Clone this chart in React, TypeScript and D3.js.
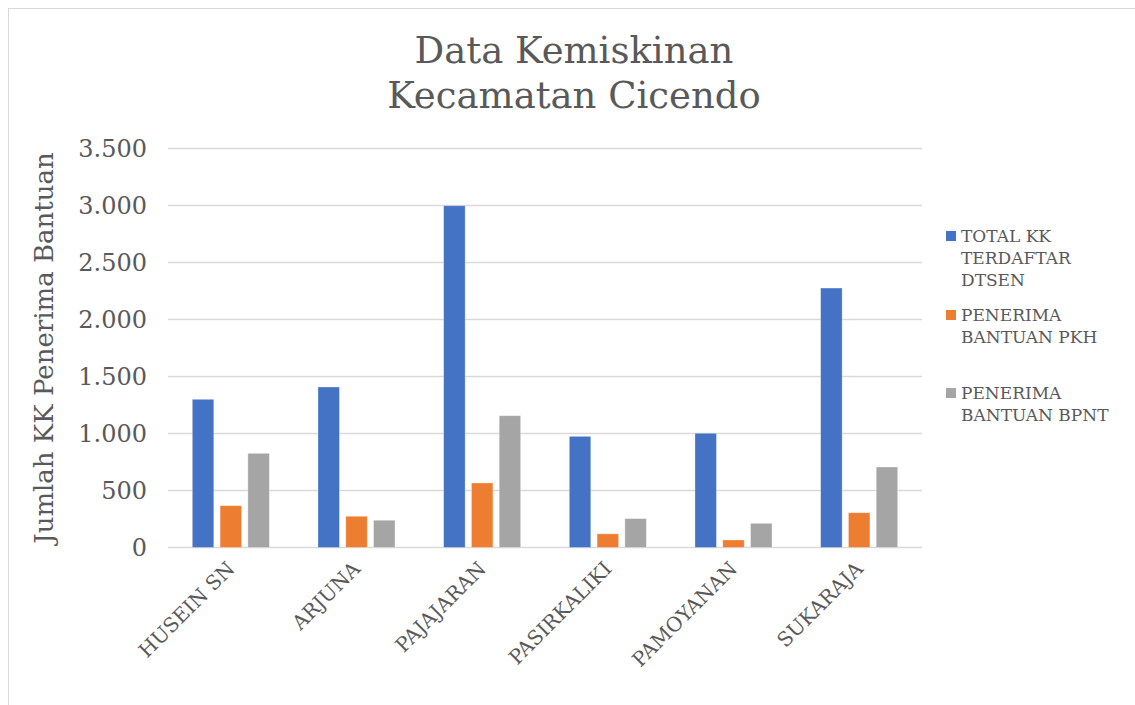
import React from "react";
import * as d3 from "d3";

const categories = ["HUSEIN SN", "ARJUNA", "PAJAJARAN", "PASIRKALIKI", "PAMOYANAN", "SUKARAJA"];
const totalKK = [1300, 1408, 2998, 975, 1002, 2276];
const penerimaPKH = [367, 274, 566, 120, 66, 305];
const penerimaBPNT = [826, 239, 1156, 253, 212, 706];
const seriesNames = [
  ["TOTAL KK", "TERDAFTAR", "DTSEN"],
  ["PENERIMA", "BANTUAN PKH"],
  ["PENERIMA", "BANTUAN BPNT"],
];
const colors = ["#4472C4", "#ED7D31", "#A5A5A5"];
const yTicks = [0, 500, 1000, 1500, 2000, 2500, 3000, 3500];

const FONT = "'DejaVu Serif', 'Liberation Serif', serif";
const TEXT = "#595959";

const App: React.FC = () => {
  const width = 1135;
  const height = 705;
  const plot = { left: 168, right: 922, top: 148.5, bottom: 547.5 };

  const series = [totalKK, penerimaPKH, penerimaBPNT];

  const x0 = d3.scaleBand<string>().domain(categories).range([plot.left, plot.right]).padding(0);
  const x1 = d3
    .scaleBand<number>()
    .domain([0, 1, 2])
    .range([0, x0.bandwidth()])
    .paddingInner(0.227)
    .paddingOuter(0.875);
  const y = d3.scaleLinear().domain([0, 3500]).range([plot.bottom, plot.top]);
  const fmt = (v: number) => d3.format(",")(v).replace(/,/g, ".");

  const legendY = [236, 315, 393];

  return (
    <svg width={width} height={height} style={{ position: "absolute", left: 0, top: 0 }}>
      <rect x={0} y={0} width={width} height={height} fill="#fff" />
      <rect x={8.5} y={8.5} width={width + 20} height={height + 20} fill="#fff" stroke="#d9d9d9" />

      {/* title */}
      <text x={574} y={63} textAnchor="middle" fontFamily={FONT} fontSize={37} fill={TEXT}>
        Data Kemiskinan
      </text>
      <text x={574} y={108} textAnchor="middle" fontFamily={FONT} fontSize={37} fill={TEXT}>
        Kecamatan Cicendo
      </text>

      {/* gridlines + y labels */}
      {yTicks.map((t) => (
        <g key={t}>
          <line x1={plot.left} x2={plot.right} y1={y(t)} y2={y(t)} stroke="#d9d9d9" strokeWidth={1.5} />
          <text
            x={147}
            y={y(t)}
            dy="0.35em"
            textAnchor="end"
            fontFamily={FONT}
            fontSize={24}
            fill={TEXT}
          >
            {fmt(t)}
          </text>
        </g>
      ))}

      {/* y axis title */}
      <text
        transform={`translate(53,${(plot.top + plot.bottom) / 2}) rotate(-90)`}
        textAnchor="middle"
        fontFamily={FONT}
        fontSize={26}
        fill={TEXT}
      >
        Jumlah KK Penerima Bantuan
      </text>

      {/* bars */}
      {categories.map((c, i) => (
        <g key={c} transform={`translate(${x0(c)},0)`}>
          {series.map((s, k) => (
            <rect
              key={k}
              x={x1(k)}
              y={y(s[i])}
              width={x1.bandwidth()}
              height={y(0) - y(s[i])}
              fill={colors[k]}
              stroke="#ffffff"
              strokeOpacity={0.4}
              strokeWidth={0.8}
            />
          ))}
        </g>
      ))}

      {/* x labels */}
      {categories.map((c) => {
        const cx = (x0(c) ?? 0) + x0.bandwidth() / 2 + 5;
        return (
          <text
            key={c}
            transform={`translate(${cx},570) rotate(-45)`}
            textAnchor="end"
            fontFamily={FONT}
            fontSize={20}
            fill={TEXT}
          >
            {c}
          </text>
        );
      })}

      {/* legend */}
      {seriesNames.map((lines, k) => (
        <g key={k}>
          <rect x={946} y={legendY[k] - 5} width={10} height={10} fill={colors[k]} />
          {lines.map((l, j) => (
            <text
              key={j}
              x={961}
              y={legendY[k] + j * 22}
              dy="0.35em"
              fontFamily={FONT}
              fontSize={17}
              fill={TEXT}
            >
              {l}
            </text>
          ))}
        </g>
      ))}
    </svg>
  );
};

export default App;
